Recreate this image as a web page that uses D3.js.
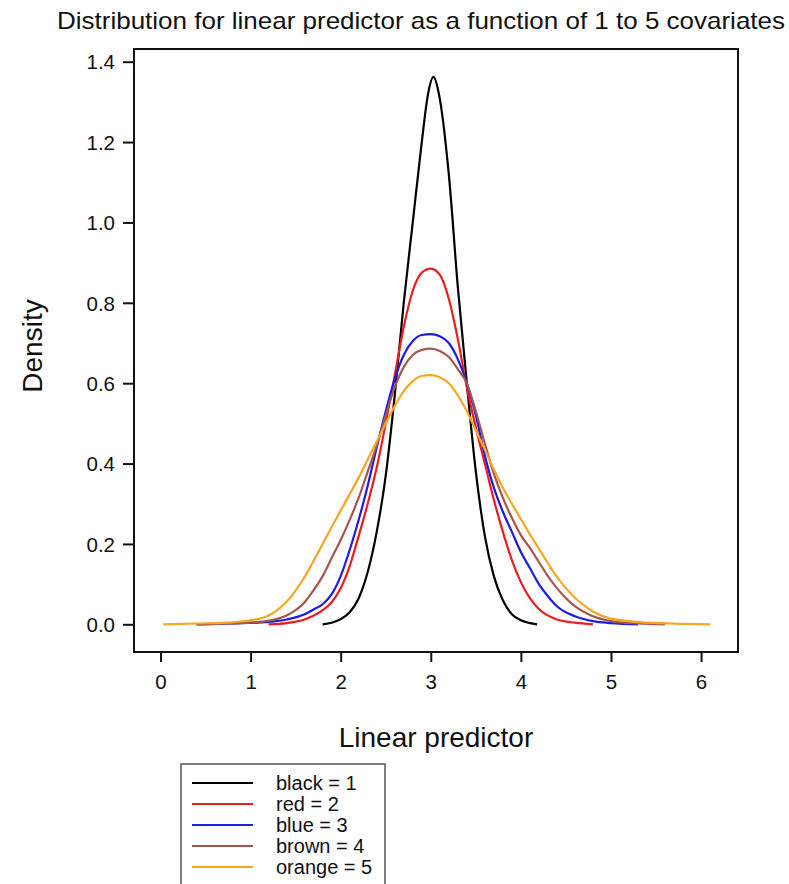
<!DOCTYPE html>
<html>
<head>
<meta charset="utf-8">
<style>
  body { margin: 0; background: #fff; }
  text { font-family: "Liberation Sans", Arial, sans-serif; fill: #111; }
</style>
</head>
<body>
<svg width="789" height="884"></svg>
<script src="https://d3js.org/d3.v7.min.js"></script>
<script>

// density estimates, [linear predictor, density]
var black = [[1.8,0],[1.9,0.004],[2.0,0.013],[2.1,0.03],[2.2,0.065],[2.3,0.13],[2.4,0.23],[2.5,0.37],
  [2.6,0.57],[2.7,0.8],[2.8,1.0],[2.9,1.2],[2.97,1.32],[3.03,1.362],[3.09,1.32],[3.2,1.12],[3.3,0.84],
  [3.4,0.6],[3.5,0.38],[3.6,0.22],[3.7,0.12],[3.8,0.06],[3.9,0.025],[4.0,0.01],[4.1,0.003],[4.18,0]];

var red = [[1.2,0],[1.4,0.003],[1.6,0.012],[1.8,0.035],[1.9,0.055],[2.0,0.09],[2.1,0.145],[2.2,0.22],
  [2.3,0.3],[2.4,0.39],[2.5,0.5],[2.6,0.62],[2.7,0.74],[2.8,0.83],[2.9,0.875],[3.0,0.885],[3.1,0.87],
  [3.2,0.81],[3.3,0.71],[3.4,0.59],[3.5,0.49],[3.6,0.4],[3.7,0.31],[3.8,0.23],[3.9,0.16],[4.0,0.105],
  [4.1,0.065],[4.2,0.038],[4.4,0.012],[4.6,0.004],[4.8,0]];

var blue = [[0.4,0],[0.8,0.002],[1.2,0.006],[1.4,0.012],[1.6,0.025],[1.7,0.037],[1.8,0.05],[1.9,0.075],
  [2.0,0.12],[2.1,0.185],[2.2,0.26],[2.3,0.345],[2.4,0.44],[2.5,0.53],[2.6,0.61],[2.7,0.67],[2.8,0.705],
  [2.9,0.72],[3.0,0.722],[3.1,0.717],[3.2,0.7],[3.3,0.66],[3.4,0.6],[3.5,0.52],[3.6,0.42],[3.7,0.34],
  [3.8,0.28],[3.9,0.23],[4.0,0.18],[4.1,0.14],[4.2,0.1],[4.3,0.07],[4.4,0.045],[4.6,0.02],[4.8,0.008],
  [5.0,0.003],[5.3,0]];

var brown = [[0.4,0],[0.8,0.002],[1.0,0.004],[1.2,0.009],[1.4,0.022],[1.6,0.055],[1.7,0.085],[1.8,0.12],
  [1.9,0.165],[2.0,0.21],[2.1,0.26],[2.2,0.315],[2.3,0.38],[2.4,0.445],[2.5,0.52],[2.6,0.59],[2.7,0.64],
  [2.8,0.67],[2.9,0.683],[3.0,0.686],[3.1,0.68],[3.2,0.665],[3.3,0.635],[3.4,0.6],[3.5,0.53],
  [3.6,0.45],[3.7,0.375],[3.8,0.315],[3.9,0.265],[4.0,0.222],[4.1,0.19],[4.2,0.155],[4.3,0.12],[4.4,0.09],
  [4.5,0.065],[4.6,0.045],[4.8,0.02],[5.0,0.008],[5.3,0.002],[5.6,0]];

var orange = [[0.03,0],[0.4,0.002],[0.8,0.005],[1.0,0.01],[1.2,0.022],[1.3,0.036],[1.4,0.056],[1.5,0.084],
  [1.6,0.118],[1.7,0.158],[1.8,0.2],[1.9,0.242],[2.0,0.283],[2.1,0.324],[2.2,0.365],[2.3,0.41],[2.4,0.455],
  [2.5,0.5],[2.6,0.543],[2.7,0.58],[2.8,0.605],[2.9,0.618],[3.0,0.62],[3.1,0.615],[3.2,0.6],[3.3,0.57],
  [3.4,0.53],[3.5,0.483],[3.6,0.435],[3.7,0.385],[3.8,0.34],[3.9,0.3],[4.0,0.262],[4.1,0.224],[4.2,0.188],
  [4.3,0.152],[4.4,0.118],[4.5,0.09],[4.6,0.066],[4.7,0.047],[4.8,0.032],[5.0,0.014],[5.4,0.004],
  [5.8,0.001],[6.1,0]];

var series = [black, red, blue, brown, orange];
var colors = ["#000000", "#ee1c1c", "#1c1ce8", "#a5564f", "#f5a623"];
var legendLabels = ["black = 1", "red = 2", "blue = 3", "brown = 4", "orange = 5"];
var xTicks = [0, 1, 2, 3, 4, 5, 6];
var yTicks = [0.0, 0.2, 0.4, 0.6, 0.8, 1.0, 1.2, 1.4];

var svg = d3.select("svg");

var box = {left: 134, right: 738, top: 49, bottom: 652};

var x = d3.scaleLinear().domain([-0.294, 6.41]).range([box.left, box.right]);
var y = d3.scaleLinear().domain([-0.0689, 1.4316]).range([box.bottom, box.top]);

var line = d3.line()
    .x(function(d) { return x(d[0]); })
    .y(function(d) { return y(d[1]); })
    .curve(d3.curveMonotoneX);

svg.append("g").selectAll("path")
    .data(series)
  .enter().append("path")
    .attr("d", line)
    .attr("fill", "none")
    .attr("stroke", function(d, i) { return colors[i]; })
    .attr("stroke-width", 2.2)
    .attr("stroke-linejoin", "round");

// plot frame
svg.append("rect")
    .attr("x", box.left).attr("y", box.top)
    .attr("width", box.right - box.left).attr("height", box.bottom - box.top)
    .attr("fill", "none").attr("stroke", "#111").attr("stroke-width", 2);

var yAxis = svg.append("g")
    .attr("transform", "translate(" + box.left + ",0)")
    .call(d3.axisLeft(y).tickValues(yTicks).tickFormat(d3.format(".1f")).tickSize(11).tickPadding(8));

var xAxis = svg.append("g")
    .attr("transform", "translate(0," + box.bottom + ")")
    .call(d3.axisBottom(x).tickValues(xTicks).tickFormat(d3.format("d")).tickSize(10).tickPadding(12));

[xAxis, yAxis].forEach(function(a) {
  a.select(".domain").remove();
  a.selectAll("line").attr("stroke", "#111").attr("stroke-width", 2);
  a.selectAll("text").style("font-size", "20.5px").attr("fill", "#222");
});
yAxis.selectAll("text").attr("dy", "0.35em");

svg.append("text")
    .attr("x", 57).attr("y", 29)
    .attr("textLength", 728).attr("lengthAdjust", "spacingAndGlyphs")
    .style("font-size", "24px")
    .text("Distribution for linear predictor as a function of 1 to 5 covariates");

svg.append("text")
    .attr("x", (box.left + box.right) / 2).attr("y", 747)
    .attr("text-anchor", "middle")
    .style("font-size", "28px")
    .text("Linear predictor");

svg.append("text")
    .attr("transform", "translate(42,346) rotate(-90)")
    .attr("text-anchor", "middle")
    .style("font-size", "28px")
    .text("Density");

// legend
var legend = svg.append("g").attr("transform", "translate(181,764)");
legend.append("rect")
    .attr("width", 204).attr("height", 140)
    .attr("fill", "#fff").attr("stroke", "#555").attr("stroke-width", 1.5);

var row = legend.selectAll(".row")
    .data(legendLabels)
  .enter().append("g")
    .attr("transform", function(d, i) { return "translate(0," + (19 + i * 21) + ")"; });

row.append("line")
    .attr("x1", 11).attr("x2", 72)
    .attr("stroke", function(d, i) { return colors[i]; })
    .attr("stroke-width", 2);

row.append("text")
    .attr("x", 95).attr("dy", "0.35em")
    .style("font-size", "20px")
    .text(function(d) { return d; });

</script>
</body>
</html>
